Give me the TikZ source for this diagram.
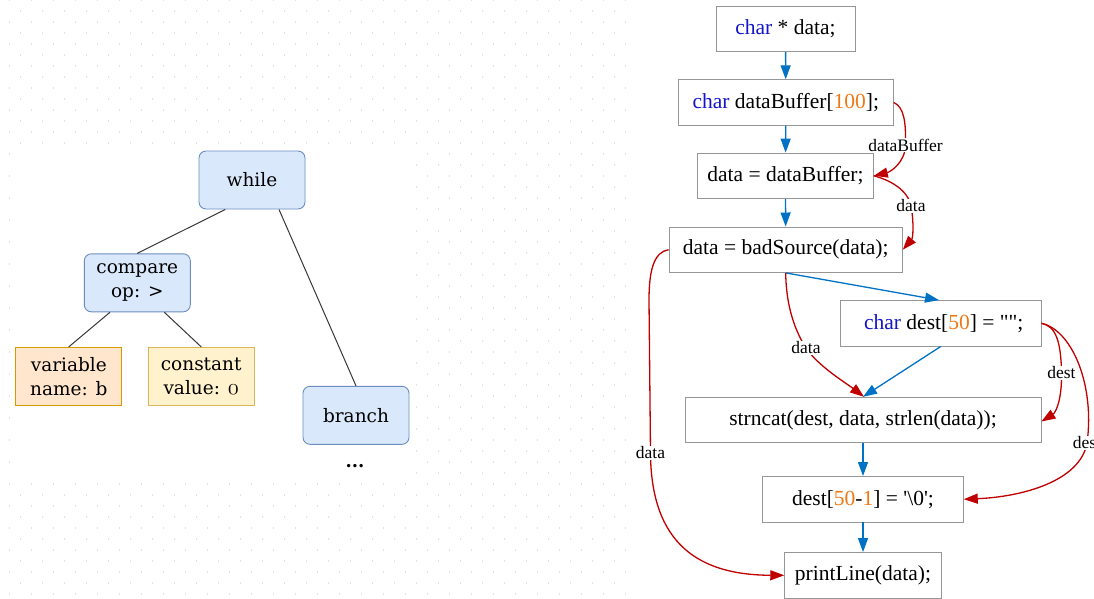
\documentclass[tikz,border=0pt]{standalone}
\usepackage{fontspec}
\newfontfamily\treefont{DejaVu Serif}
\newfontfamily\codefont{Liberation Serif}
\usetikzlibrary{arrows.meta}

\definecolor{flowblue}{RGB}{0,114,198}
\definecolor{depred}{RGB}{192,0,0}
\definecolor{kwblue}{RGB}{20,20,200}
\definecolor{numorange}{RGB}{240,120,20}
\definecolor{gridgray}{RGB}{225,225,225}
\definecolor{astfill}{HTML}{DAE8FC}
\definecolor{astline}{HTML}{6C8EBF}
\definecolor{varfill}{HTML}{FFE6CC}
\definecolor{varline}{HTML}{D79B00}
\definecolor{cstfill}{HTML}{FFF2CC}
\definecolor{cstline}{HTML}{D6B656}
\definecolor{boxline}{RGB}{150,150,150}

\newcommand\kwd[1]{\textcolor{kwblue}{#1}}
\newcommand\numlit[1]{\textcolor{numorange}{#1}}
% old-style zero, sized to sit on the x-height of the tree font
\newcommand\oszero{\scalebox{1.3}{$\mathnormal{0}$}}

\tikzset{
  astbox/.style={draw=astline, fill=astfill, rounded corners=7pt, line width=0.9pt,
    minimum width=106pt, minimum height=58pt, inner sep=0pt, align=center,
    font=\treefont\fontsize{18.5}{24}\selectfont},
  varbox/.style={astbox, rounded corners=0pt, draw=varline, fill=varfill},
  cstbox/.style={astbox, rounded corners=0pt, draw=cstline, fill=cstfill},
  treeedge/.style={draw=black!78, line width=1pt},
  stmt/.style={draw=boxline, fill=white, line width=0.9pt, minimum height=45.5pt,
    inner sep=0pt, font=\codefont\fontsize{21.5}{26}\selectfont},
  flow/.style={draw=flowblue, line width=1.3pt, -{Triangle[length=14pt,width=10pt]}},
  dep/.style={draw=depred, line width=1.3pt, -{Triangle[length=14pt,width=10pt]}},
  deplbl/.style={fill=white, inner sep=1pt, font=\codefont\fontsize{17.5}{20}\selectfont},
}

\begin{document}
\begin{tikzpicture}[x=1pt, y=-1pt]
\useasboundingbox (0,0) rectangle (1094,598);
\clip (0,0) rectangle (1094,598);

% dotted canvas grid behind the syntax tree
\foreach \i in {0,...,28}{
  \foreach \j in {0,...,27}{
    \fill[gridgray] (9.3+22*\i-0.8, 22*\j-0.8) rectangle ++(1.6,1.6);
  }
}
\foreach \i in {0,...,27}{
  \foreach \j in {0,...,26}{
    \fill[gridgray] (20.3+22*\i-0.8, 11+22*\j-0.8) rectangle ++(1.6,1.6);
  }
}
\fill[white] (13,148) rectangle (410,478);

% syntax tree
\node[astbox] (while) at (252,180) {while};
\node[astbox] (compare) at (137.3,282.8) {compare\\op: >};
\node[varbox] (variable) at (68.8,376.3) {variable\\name: b};
\node[cstbox] (constant) at (201.2,376.3) {constant\\value: \oszero};
\node[astbox] (branch) at (356,415.3) {branch};
\node[font=\treefont\bfseries\fontsize{18}{20}\selectfont] (more) at (355,466) {...};

\draw[treeedge] ([xshift=-26.7pt]while.south) -- (compare.north);
\draw[treeedge] ([xshift=27pt]while.south) -- (branch.north);
\draw[treeedge] ([xshift=-27.3pt]compare.south) -- (variable.north);
\draw[treeedge] ([xshift=27pt]compare.south) -- (constant.north);

% statement graph
\node[stmt, minimum width=139pt]   (s1) at (785.5,28.9)  {\kwd{char} * data;};
\node[stmt, minimum width=215pt]   (s2) at (785.8,102.5) {\kwd{char} dataBuffer[\numlit{100}];};
\node[stmt, minimum width=175.6pt] (s3) at (785.5,175.8) {data = dataBuffer;};
\node[stmt, minimum width=233.3pt] (s4) at (785.7,249.7) {data = badSource(data);};
\node[stmt, minimum width=200.7pt] (s5) at (940.7,323.3) {\hspace{6pt}\kwd{char} dest[\numlit{50}] = "";};
\node[stmt, minimum width=356pt]   (s6) at (863,420)     {strncat(dest, data, strlen(data));};
\node[stmt, minimum width=200.6pt] (s7) at (863,499.2)   {dest[\numlit{50}-\numlit{1}] = '\textbackslash 0';};
\node[stmt, minimum width=156.6pt] (s8) at (863,575.3)   {printLine(data);};

% control flow
\draw[flow] (s1) -- (s2);
\draw[flow] (s2) -- (s3);
\draw[flow] (s3) -- (s4);
\draw[flow] (s4.south) -- ([xshift=-1.7pt]s5.north);
\draw[flow] (s5.south) -- (s6.north);
\draw[flow] (s6) -- (s7);
\draw[flow] (s7) -- (s8);

% data dependences
\draw[dep] (s2.east) .. controls (904,107) and (906,122) .. (905.5,145)
  node[deplbl] (l1) {dataBuffer}
  .. controls (905,163) and (890,172) .. (s3.east);
\draw[dep] (s3.east) .. controls (890,180) and (908,190) .. (911,206)
  node[deplbl] (l2) {data}
  .. controls (914,222) and (913,238) .. (s4.east);
\draw[dep] (s4.south) .. controls (786,300) and (792,326) .. (806,348)
  node[deplbl] (l3) {data}
  .. controls (818,366) and (846,383) .. ([xshift=1pt]s6.north);
\draw[dep] (s4.west) .. controls (654,252) and (649,270) .. (649,300)
  -- (650.5,453) node[deplbl] (l4) {data}
  .. controls (651,545) and (700,575) .. (s8.west);
\draw[dep] (s5.east) .. controls (1056,326) and (1061,342) .. (1061.5,373)
  node[deplbl] (l5) {dest}
  .. controls (1062,402) and (1055,413) .. ([yshift=-1.5pt]s6.east);
\draw[dep] (s5.east) .. controls (1072,330) and (1095,385) .. (1087,443)
  node[deplbl] (l6) {dest}
  .. controls (1080,482) and (1020,497) .. (s7.east);
\end{tikzpicture}
\end{document}
